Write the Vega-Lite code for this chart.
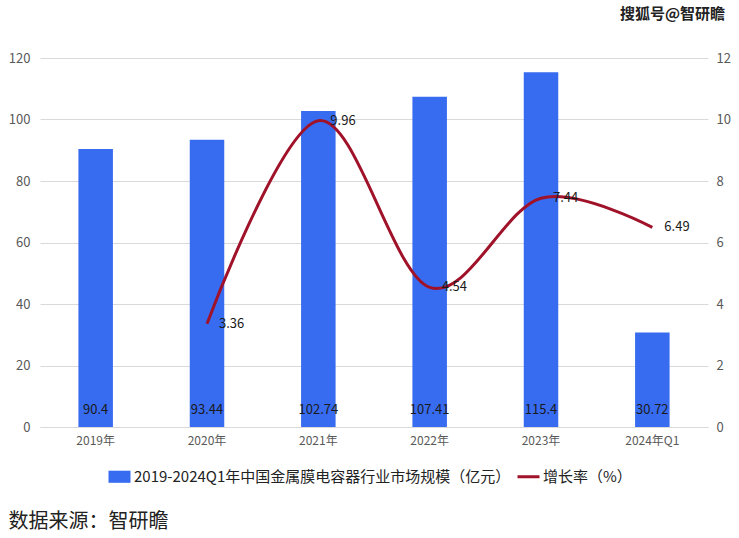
{
  "$schema": "https://vega.github.io/schema/vega-lite/v6.json",
  "autosize": {"type": "none"},
  "width": 668,
  "height": 369,
  "padding": {"left": 40, "top": 58, "right": 31, "bottom": 111},
  "background": "white",
  "config": {
    "font": "Noto Sans CJK SC",
    "view": {"stroke": null}
  },
  "title": {
    "text": "搜狐号@智研瞻",
    "orient": "top",
    "anchor": "end",
    "frame": "group",
    "fontSize": 15,
    "fontWeight": "bold",
    "color": "#222222",
    "offset": 30,
    "dx": 17,
    "font": "Noto Sans CJK SC"
  },
  "data": {
    "values": [
      {"year": "2019年", "value": 90.4, "rate": null},
      {"year": "2020年", "value": 93.44, "rate": 3.36},
      {"year": "2021年", "value": 102.74, "rate": 9.96},
      {"year": "2022年", "value": 107.41, "rate": 4.54},
      {"year": "2023年", "value": 115.4, "rate": 7.44},
      {"year": "2024年Q1", "value": 30.72, "rate": 6.49}
    ]
  },
  "encoding": {
    "x": {
      "field": "year",
      "type": "nominal",
      "sort": null,
      "scale": {"paddingInner": 0.69, "paddingOuter": 0.345},
      "axis": {
        "title": "数据来源：智研瞻",
        "titleAnchor": "start",
        "titleAlign": "left",
        "titleX": -32,
        "titleY": 94,
        "titleFontSize": 20,
        "titleFontWeight": "normal",
        "titleColor": "#222222",
        "titleBaseline": "middle",
        "labelAngle": 0,
        "labelFontSize": 12,
        "labelColor": "#595959",
        "labelPadding": 8,
        "ticks": false,
        "domainColor": "#d9d9d9",
        "domainWidth": 1
      }
    }
  },
  "layer": [
    {
      "layer": [
        {
          "mark": {"type": "bar", "color": "#376CF0"},
          "encoding": {
            "y": {
              "field": "value",
              "type": "quantitative",
              "scale": {"domain": [0, 120], "nice": false},
              "axis": {
                "title": null,
                "values": [0, 20, 40, 60, 80, 100, 120],
                "grid": true,
                "gridColor": "#d9d9d9",
                "domain": false,
                "ticks": false,
                "labelFontSize": 13,
                "labelColor": "#595959",
                "labelPadding": 10
              }
            },
            "color": {
              "datum": "2019-2024Q1年中国金属膜电容器行业市场规模（亿元）",
              "type": "nominal",
              "scale": {
                "domain": ["2019-2024Q1年中国金属膜电容器行业市场规模（亿元）", "增长率（%）"],
                "range": ["#376CF0", "#A0122A"]
              },
              "legend": {
                "title": null,
                "orient": "none",
                "direction": "horizontal",
                "legendX": 72,
                "legendY": 411,
                "labelFontSize": 15,
                "labelColor": "#222222",
                "labelOffset": 7,
                "columnPadding": 0,
                "symbolSize": 484,
                "labelLimit": 500,
                "encode": {
                  "symbols": {
                    "update": {
                      "shape": {"signal": "datum.value === '增长率（%）' ? 'stroke' : 'M-1,-0.55H1V0.55H-1Z'"},
                      "fill": {"signal": "datum.value === '增长率（%）' ? 'transparent' : '#376CF0'"},
                      "stroke": {"signal": "datum.value === '增长率（%）' ? '#A0122A' : 'transparent'"},
                      "strokeWidth": {"signal": "datum.value === '增长率（%）' ? 3 : 0"},
                      "opacity": {"value": 1}
                    }
                  }
                }
              }
            }
          }
        },
        {
          "mark": {"type": "text", "fontSize": 13, "color": "#1a1a1a", "baseline": "middle", "dy": -17},
          "encoding": {
            "y": {"datum": 0, "type": "quantitative"},
            "text": {"field": "value", "type": "quantitative"}
          }
        }
      ]
    },
    {
      "transform": [{"filter": "datum.rate != null"}],
      "layer": [
        {
          "mark": {"type": "line", "interpolate": "cardinal", "strokeWidth": 3, "color": "#A0122A"},
          "encoding": {
            "y": {
              "field": "rate",
              "type": "quantitative",
              "scale": {"domain": [0, 12], "nice": false},
              "axis": {
                "orient": "right",
                "title": null,
                "values": [0, 2, 4, 6, 8, 10, 12],
                "grid": false,
                "domain": false,
                "ticks": false,
                "labelFontSize": 13,
                "labelColor": "#595959",
                "labelPadding": 8
              }
            },
            "color": {"datum": "增长率（%）", "type": "nominal"}
          }
        },
        {
          "mark": {"type": "text", "fontSize": 13, "color": "#1a1a1a", "align": "left", "baseline": "middle", "dx": 12},
          "encoding": {
            "y": {"field": "rate", "type": "quantitative"},
            "text": {"field": "rate", "type": "quantitative"}
          }
        }
      ]
    }
  ],
  "resolve": {"scale": {"y": "independent"}}
}
